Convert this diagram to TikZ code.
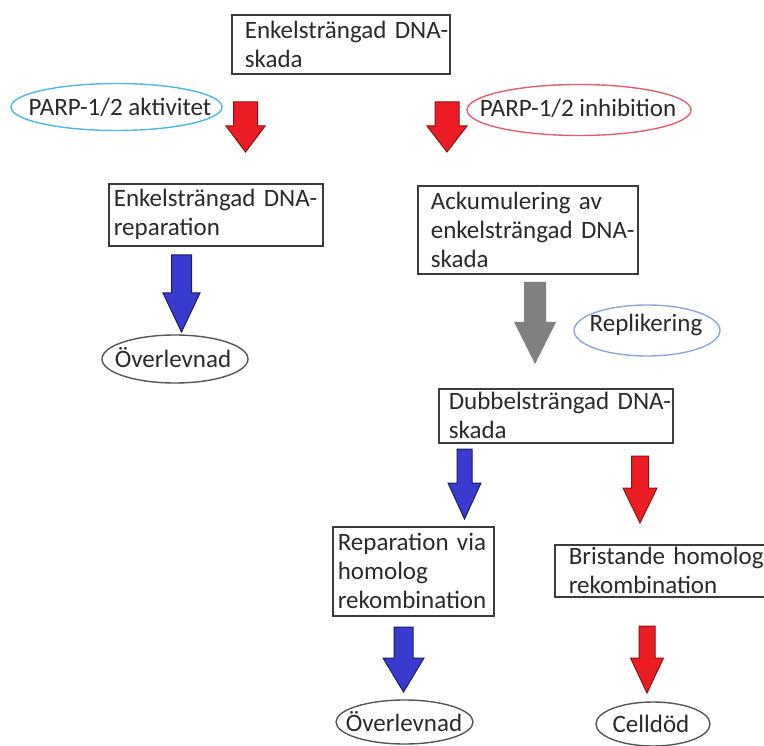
\documentclass[tikz,border=0pt]{standalone}
\usepackage{fontspec}
\setmainfont{Carlito}
\hyphenpenalty=10000
\definecolor{txt}{HTML}{2A2A2A}
\definecolor{boxline}{HTML}{3C3C3C}
\definecolor{arred}{HTML}{EC1C24}
\definecolor{arredline}{HTML}{8A1414}
\definecolor{arblue}{HTML}{3A3AD0}
\definecolor{arblueline}{HTML}{1C1C5A}
\definecolor{argray}{HTML}{808080}
\definecolor{elcyan}{HTML}{4DB8E2}
\definecolor{elred}{HTML}{E0606E}
\definecolor{elblue}{HTML}{8FA6D8}
\definecolor{elgray}{HTML}{555555}
\newcommand\blockarr[7]{%
  \draw[#1] ({#2-#6},#3) -- ({#2+#6},#3) -- ({#2+#6},#4) -- ({#2+#7},#4)
    -- (#2,#5) -- ({#2-#7},#4) -- ({#2-#6},#4) -- cycle;}
\newcommand\pad[1]{\hspace*{#1pt}}
\begin{document}
\begin{tikzpicture}[x=1pt,y=-1pt,
  every node/.style={font=\fontsize{25}{29}\selectfont, text=txt},
  box/.style={draw=boxline, line width=1.6pt, anchor=north west, inner xsep=0pt, inner ysep=0pt, align=left},
  oval/.style={line width=1.4pt},
  redarr/.style={fill=arred, draw=arredline, line width=1pt, line join=miter},
  bluearr/.style={fill=arblue, draw=arblueline, line width=1pt, line join=miter},
  grayarr/.style={fill=argray, draw=none}]
\clip (0,0) rectangle (764,746);
\fill[white] (0,0) rectangle (764,746);

% boxes
\node[box, text width=218pt, minimum height=59pt] (ssb) at (231,14)
  {\pad{13}Enkelsträngad~DNA-\\\pad{13}skada};
\node[box, text width=214pt, minimum height=62pt] (ssr) at (108,183)
  {\pad{5}Enkelsträngad~DNA-\\\pad{5}reparation};
\node[box, text width=220pt, minimum height=88pt] (acc) at (417,185)
  {\pad{13}Ackumulering~av\\\pad{13}enkelsträngad~DNA-\\\pad{13}skada};
\node[box, text width=234pt, minimum height=54pt] (dsb) at (438,388)
  {\pad{10}Dubbelsträngad~DNA-\\\pad{10}skada};
\node[box, text width=161pt, minimum height=89pt] (hr) at (332,526)
  {\pad{5}Reparation~via\\\pad{5}homolog\\\pad{5}rekombination};
\node[box, text width=240pt, minimum height=52pt] (nohr) at (554,544)
  {\pad{14}Bristande~homolog\\\pad{14}rekombination};

% ellipses
\node (akt) at (120,107) {PARP-1/2 aktivitet};
\draw[oval, draw=elcyan] (116.5,107) ellipse [x radius=105.5, y radius=23.5];
\node (inh) at (578,108.5) {PARP-1/2 inhibition};
\draw[oval, draw=elred] (579,110) ellipse [x radius=112, y radius=25.5];
\node (rep) at (646,325) {Replikering};
\draw[oval, draw=elblue] (647,330.5) ellipse [x radius=73, y radius=25.5];
\node (ov1) at (173,358) {Överlevnad};
\draw[oval, draw=elgray] (175,359) ellipse [x radius=73, y radius=24];
\node (ov2) at (404,722) {Överlevnad};
\draw[oval, draw=elgray] (404.5,722) ellipse [x radius=68.5, y radius=22];
\node (cd) at (651,724) {Celldöd};
\draw[oval, draw=elgray] (653,724) ellipse [x radius=57, y radius=22];

% block arrows
\blockarr{redarr}{245.5}{102}{126}{152}{12}{19.5}
\blockarr{redarr}{447}{102}{126}{152}{12}{20}
\blockarr{bluearr}{181.5}{255}{293}{332}{10}{18.5}
\blockarr{grayarr}{535}{282}{322}{364}{11}{21}
\blockarr{bluearr}{464.5}{449}{483}{519}{7.5}{16.5}
\blockarr{redarr}{640}{456}{488}{523}{8.5}{17}
\blockarr{bluearr}{403.5}{627}{658}{692}{9.5}{20.5}
\blockarr{redarr}{647}{626}{658}{693}{8}{16.5}
\end{tikzpicture}
\end{document}
